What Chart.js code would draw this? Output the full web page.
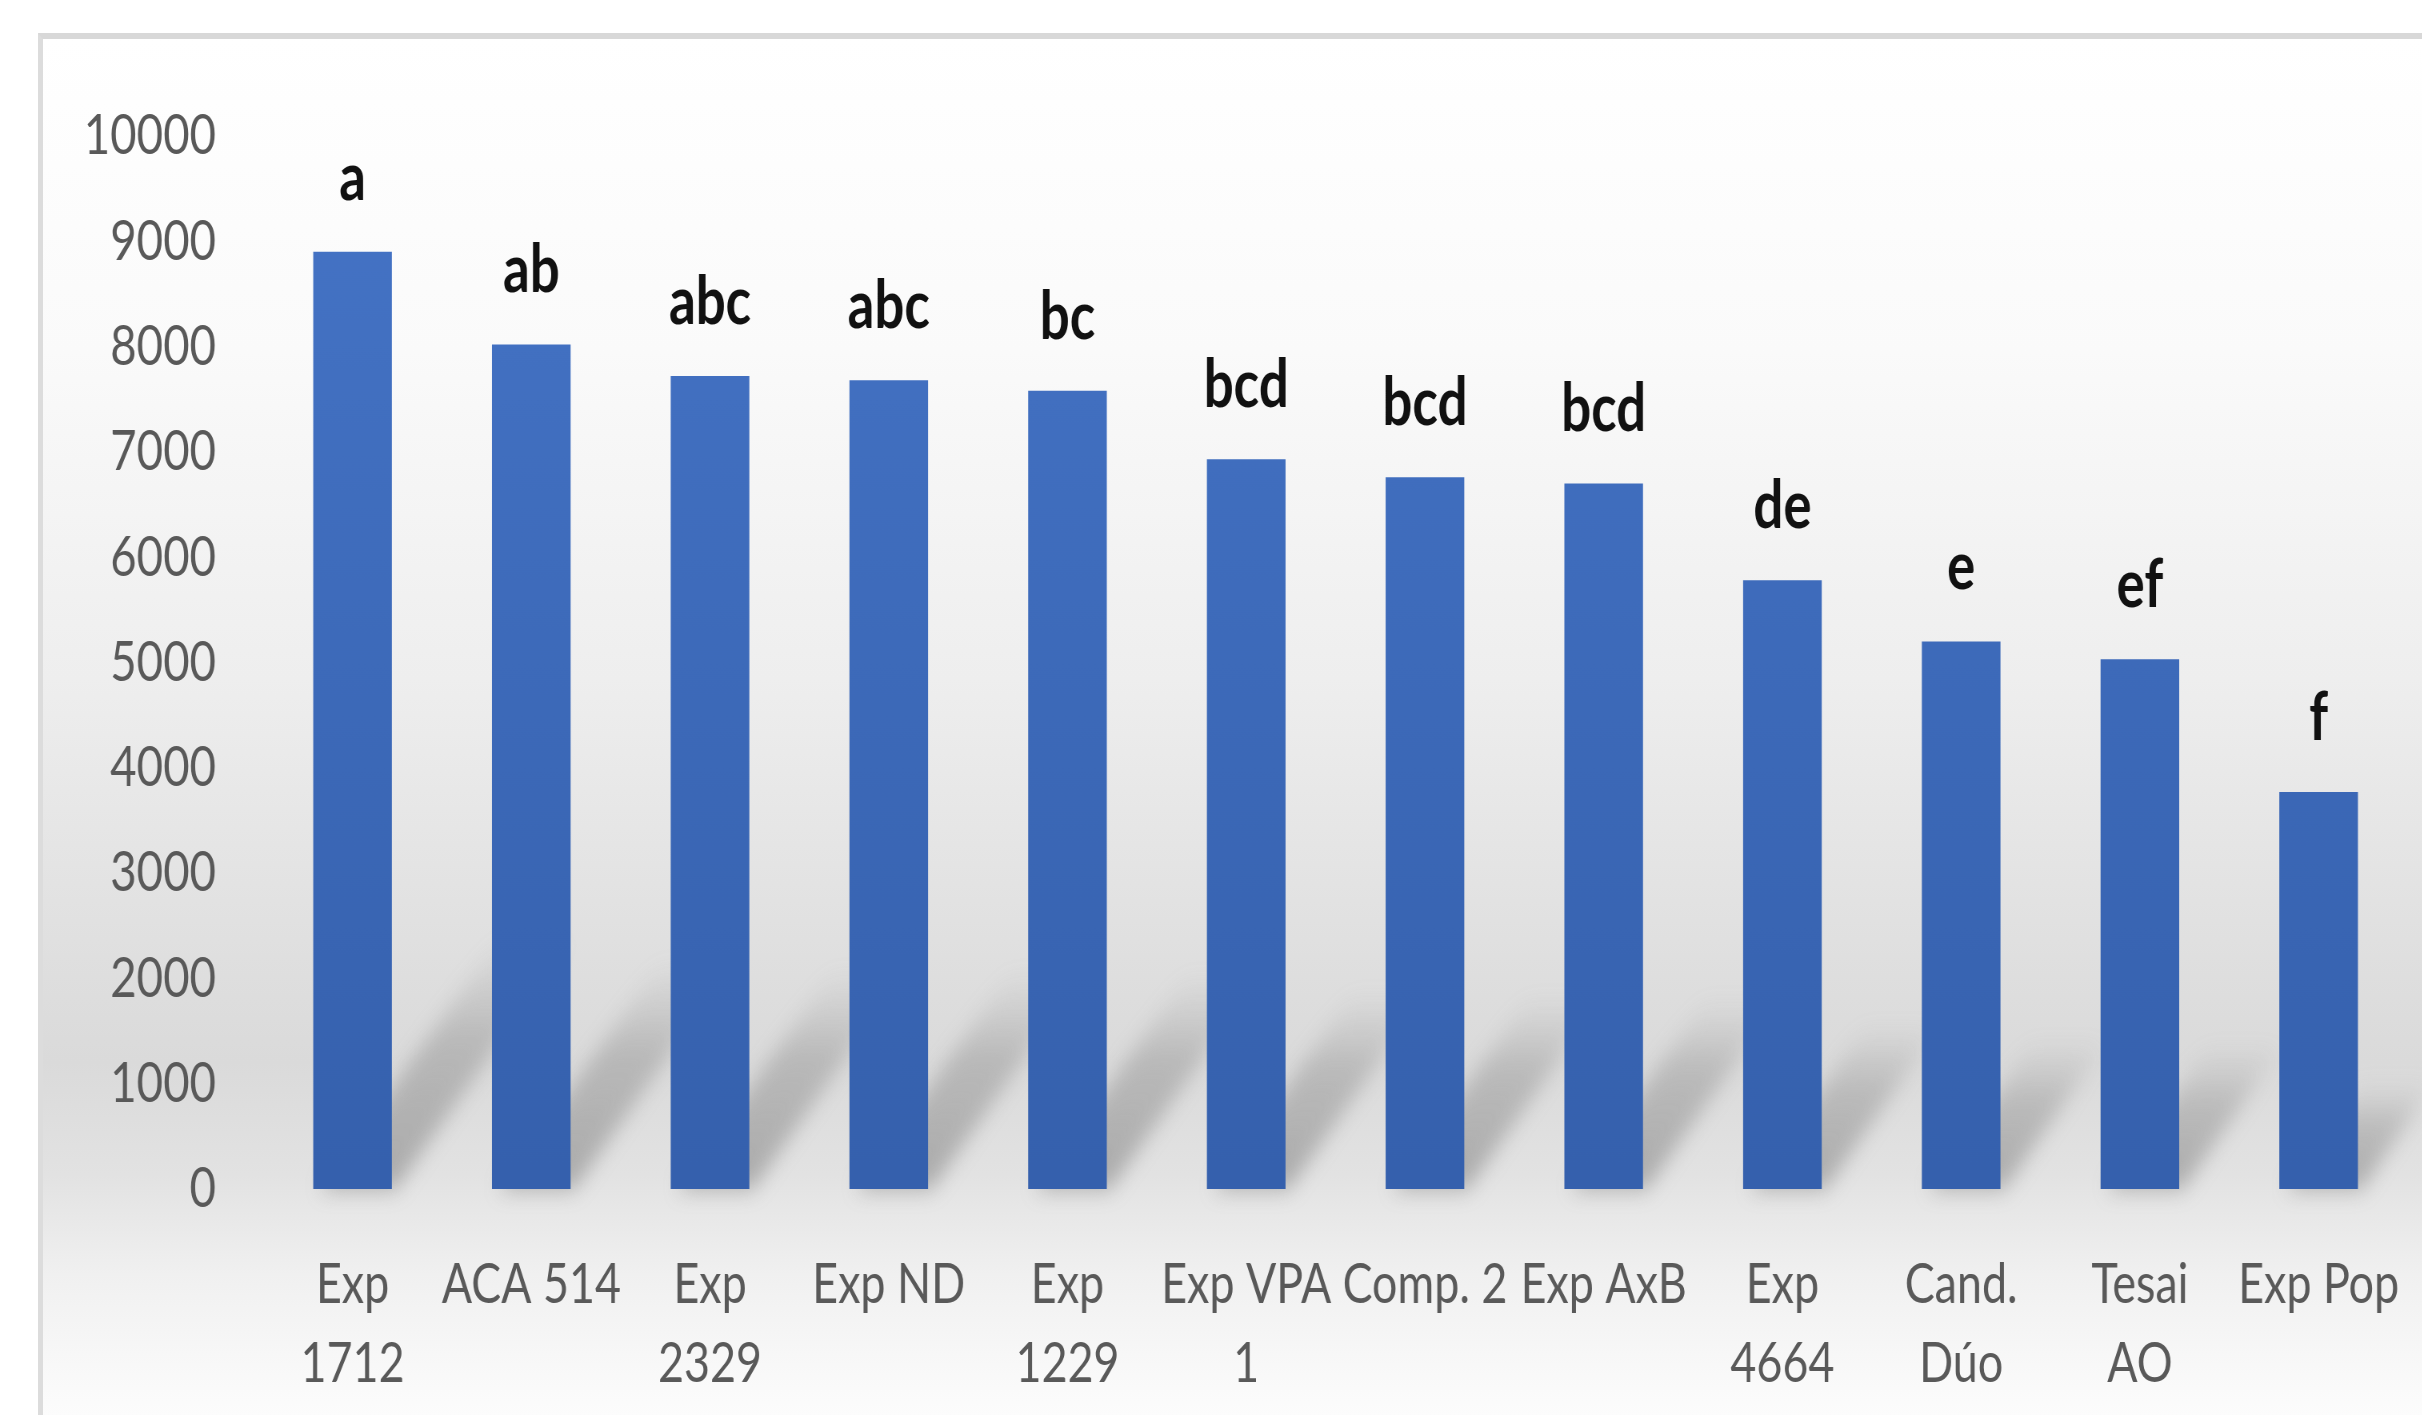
<!DOCTYPE html>
<html>
<head>
<meta charset="utf-8">
<script src="https://cdn.jsdelivr.net/npm/chart.js@4.4.0/dist/chart.umd.min.js"></script>
<style>
  html, body { margin: 0; padding: 0; background: #fff; overflow: hidden; }
  #frame {
    position: absolute; left: 38px; top: 33px; width: 2420px; height: 1420px;
    border-top: 6px solid #d8d8d8; border-left: 5px solid #dcdcdc;
    background: linear-gradient(to bottom, #ffffff 0%, #fafafa 22%, #eeeeee 45%, #dedede 66%, #dadada 72%, #e2e2e2 80%, #f0f0f0 87%, #fafafa 95%, #ffffff 100%);
  }
  /* chart is laid out wider and squeezed back, the office fonts are narrow */
  #wrap { position: absolute; left: 0; top: 0; width: 3028px; height: 1415px;
          transform: scaleX(0.8); transform-origin: 0 0; }
</style>
</head>
<body>
<div id="frame"></div>
<div id="wrap"><canvas id="barChart"></canvas></div>
<script>
let categories = [['Exp', '1712'], 'ACA 514', ['Exp', '2329'], 'Exp ND', ['Exp', '1229'], ['Exp VPA', '1'],
                  'Comp. 2', 'Exp AxB', ['Exp', '4664'], ['Cand.', 'Dúo'], ['Tesai', 'AO'], 'Exp Pop'];
let yields = [8900, 8020, 7720, 7680, 7580, 6930, 6760, 6700, 5780, 5200, 5030, 3770];
let letters = ['a', 'ab', 'abc', 'abc', 'bc', 'bcd', 'bcd', 'bcd', 'de', 'e', 'ef', 'f'];
let yTicks = [0, 1000, 2000, 3000, 4000, 5000, 6000, 7000, 8000, 9000, 10000];

let FONT = "Lato, 'Open Sans', sans-serif";

// slanted soft shadow behind every bar
let shadowPlugin = {
    id: 'barShadows',
    beforeDatasetsDraw(chart) {
        let ctx = chart.ctx;
        let meta = chart.getDatasetMeta(0);
        ctx.save();
        ctx.filter = 'blur(11px)';
        meta.data.forEach(function (bar) {
            let p = bar.getProps(['x', 'y', 'base', 'width']);
            let h = (p.base - p.y) * 0.27;
            let dx = h * 0.9;
            let l = p.x - p.width / 2, r = p.x + p.width / 2;
            let g = ctx.createLinearGradient(0, p.base, 0, p.base - h);
            g.addColorStop(0, 'rgba(100,100,100,0.45)');
            g.addColorStop(0.6, 'rgba(110,110,110,0.3)');
            g.addColorStop(1, 'rgba(130,130,130,0)');
            ctx.fillStyle = g;
            ctx.beginPath();
            ctx.moveTo(l + 8, p.base);
            ctx.lineTo(r + 4, p.base);
            ctx.lineTo(r + dx, p.base - h);
            ctx.lineTo(l + dx + 8, p.base - h);
            ctx.closePath();
            ctx.fill();
        });
        ctx.restore();
    }
};

// significance letters above the bars
let letterPlugin = {
    id: 'letters',
    afterDatasetsDraw(chart) {
        let ctx = chart.ctx;
        let meta = chart.getDatasetMeta(0);
        ctx.save();
        ctx.font = "bold 66px " + FONT;
        ctx.fillStyle = '#111';
        ctx.textAlign = 'center';
        ctx.textBaseline = 'alphabetic';
        meta.data.forEach(function (bar, i) {
            ctx.fillText(letters[i], bar.x, bar.y - 52);
        });
        ctx.restore();
    }
};

let canvas = document.getElementById('barChart');
let barChart = new Chart(canvas.getContext('2d'), {
    type: 'bar',
    data: {
        labels: categories,
        datasets: [{
            data: yields,
            backgroundColor: function (context) {
                let area = context.chart.chartArea;
                if (!area) return '#4472c4';
                let g = context.chart.ctx.createLinearGradient(0, area.top, 0, area.bottom);
                g.addColorStop(0, '#4574c6');
                g.addColorStop(1, '#3560ad');
                return g;
            },
            borderWidth: 0,
            barPercentage: 0.44,
            categoryPercentage: 1.0
        }]
    },
    options: {
        responsive: true,
        maintainAspectRatio: false,
        animation: false,
        layout: { padding: { left: 0, right: 18, top: 136, bottom: 0 } },
        plugins: {
            legend: { display: false },
            tooltip: { enabled: false }
        },
        scales: {
            x: {
                grid: { display: false, drawTicks: false },
                border: { display: false },
                ticks: {
                    color: '#595959',
                    font: { family: FONT, size: 56, lineHeight: 1.42 },
                    padding: 56,
                    maxRotation: 0,
                    autoSkip: false
                },
                afterFit: function (scale) {
                    scale.height = 1415 - 1189;
                    scale.paddingLeft = 0;
                    scale.paddingRight = 0;
                }
            },
            y: {
                min: 0,
                max: 10000,
                afterBuildTicks: function (scale) {
                    scale.ticks = yTicks.map(function (v) { return { value: v }; });
                },
                grid: { display: false, drawTicks: false },
                border: { display: false },
                ticks: {
                    color: '#595959',
                    font: { family: FONT, size: 57 },
                    padding: 59,
                    callback: function (v) { return String(v); }
                },
                afterFit: function (scale) { scale.width = 329; }
            }
        }
    },
    plugins: [shadowPlugin, letterPlugin]
});
</script>
</body>
</html>
